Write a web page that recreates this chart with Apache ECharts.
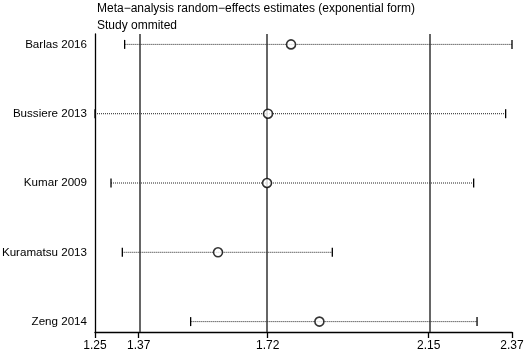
<!DOCTYPE html>
<html>
<head>
<meta charset="utf-8">
<script src="https://cdn.jsdelivr.net/npm/echarts@6/dist/echarts.min.js"></script>
<style>html,body{margin:0;padding:0;background:#fff}#c{width:529px;height:353px}</style>
</head>
<body>
<div id="c"></div>
<script>
var studies = ['Barlas 2016', 'Bussiere 2013', 'Kumar 2009', 'Kuramatsu 2013', 'Zeng 2014'];
var rowPos = [5, 4, 3, 2, 1];
var estimates = [1.7765, 1.7147, 1.7120, 1.5804, 1.8527];
var lowerCI = [1.3296, 1.2500, 1.2930, 1.3234, 1.5069];
var upperCI = [2.3700, 2.3529, 2.2670, 1.8874, 2.2761];
var refLines = [1.3673, 1.7138, 2.1462];
var tickValues = [1.25, 1.3673, 1.7138, 2.1462, 2.37];
var tickLabels = ['1.25', '1.37', '1.72', '2.15', '2.37'];

var FONT = 'Liberation Sans, Arial, Helvetica, sans-serif';
var chart = echarts.init(document.getElementById('c'), null, {renderer: 'canvas'});

var ciData = studies.map(function (s, i) { return [lowerCI[i], upperCI[i], rowPos[i]]; });
var estData = studies.map(function (s, i) { return [estimates[i], rowPos[i]]; });

chart.setOption({
  animation: false,
  title: {
    text: 'Meta\u2212analysis random\u2212effects estimates (exponential form)\nStudy ommited',
    left: 97, top: 0, padding: 0,
    textStyle: {fontSize: 12, fontWeight: 'normal', color: '#000', fontFamily: FONT, lineHeight: 17}
  },
  grid: {left: 95, right: 17, top: 34, bottom: 21, containLabel: false, outerBoundsMode: 'none'},
  xAxis: {
    type: 'value', min: 1.25, max: 2.37,
    splitLine: {show: false},
    axisLine: {show: true, lineStyle: {color: '#000', width: 1.3}},
    axisTick: {show: true, length: 6, customValues: tickValues, lineStyle: {color: '#000', width: 1.3}},
    axisLabel: {
      customValues: tickValues, margin: 14, color: '#000', fontSize: 12, fontFamily: FONT,
      verticalAlign: 'middle',
      formatter: function (v) {
        for (var i = 0; i < tickValues.length; i++) if (Math.abs(tickValues[i] - v) < 1e-6) return tickLabels[i];
        return '';
      }
    }
  },
  yAxis: {
    type: 'value', min: 0.85, max: 5.15,
    splitLine: {show: false},
    axisLine: {show: true, lineStyle: {color: '#000', width: 1.3}},
    axisTick: {show: false},
    axisLabel: {
      customValues: rowPos, margin: 8, color: '#000', fontSize: 11.6, fontFamily: FONT,
      formatter: function (v) {
        var i = rowPos.indexOf(Math.round(v));
        return i >= 0 ? studies[i] : '';
      }
    }
  },
  series: [
    {
      type: 'custom',
      data: ciData,
      encode: {x: [0, 1], y: 2},
      z: 3,
      renderItem: function (params, api) {
        var a = api.coord([api.value(0), api.value(2)]);
        var b = api.coord([api.value(1), api.value(2)]);
        var h = 4.5;
        return {
          type: 'group',
          children: [
            {type: 'line', shape: {x1: a[0], y1: a[1], x2: b[0], y2: b[1]},
             style: {stroke: '#222', lineWidth: 1, lineDash: [1, 1]}},
            {type: 'line', shape: {x1: a[0], y1: a[1] - h, x2: a[0], y2: a[1] + h},
             style: {stroke: '#000', lineWidth: 1.3}},
            {type: 'line', shape: {x1: b[0], y1: b[1] - h, x2: b[0], y2: b[1] + h},
             style: {stroke: '#000', lineWidth: 1.3}}
          ]
        };
      },
      markLine: {
        silent: true, symbol: 'none', label: {show: false},
        lineStyle: {color: '#333', width: 1.5, type: 'solid'},
        data: refLines.map(function (v) { return {xAxis: v}; })
      }
    },
    {
      type: 'scatter',
      data: estData,
      symbol: 'circle', symbolSize: 9, z: 5,
      itemStyle: {color: '#fff', borderColor: '#000', borderWidth: 1.6}
    }
  ]
});
</script>
</body>
</html>
